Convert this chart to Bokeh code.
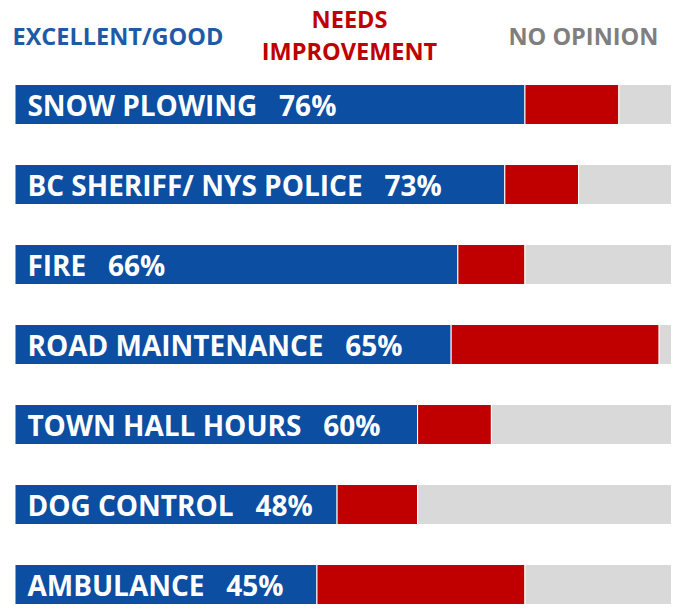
from bokeh.plotting import figure
from bokeh.models import Range1d, ColumnDataSource, Label
from bokeh.embed import file_html
from bokeh.resources import INLINE
from bokeh.core.properties import value

services = ["SNOW PLOWING", "BC SHERIFF/ NYS POLICE", "FIRE", "ROAD MAINTENANCE",
            "TOWN HALL HOURS", "DOG CONTROL", "AMBULANCE"]
excellent_good = [76, 73, 66, 65, 60, 48, 45]
needs_improvement = [14, 11, 10, 31, 11, 12, 31]
no_opinion = [100 - a - b for a, b in zip(excellent_good, needs_improvement)]
header_labels = ["EXCELLENT/GOOD", "NEEDS", "IMPROVEMENT", "NO OPINION"]

BLUE = "#0B4EA2"
RED = "#C00000"
GRAY = "#D9D9D9"

W, H = 671, 605

idx = list(range(len(services)))
left1 = [0] * len(services)
right1 = excellent_good
right2 = [a + b for a, b in zip(excellent_good, needs_improvement)]
right3 = [a + b + c for a, b, c in zip(excellent_good, needs_improvement, no_opinion)]
NB = "\u00a0"
labels = [f"{s}{NB*3}{v}%" for s, v in zip(services, excellent_good)]

src = ColumnDataSource(dict(y=idx, l1=left1, r1=right1, r2=right2, r3=right3, lab=labels,
                            lx=[1.85] * len(services)))

p = figure(width=W, height=H, output_backend="svg", toolbar_location=None,
           x_range=Range1d(-2.16, 97.84), y_range=Range1d(6.2625, -1.3),
           min_border=0, outline_line_color=None)
p.axis.visible = False
p.grid.visible = False
p.background_fill_color = "white"

h = 0.5
p.hbar(y="y", left="l1", right="r1", height=h, source=src, fill_color=BLUE,
       line_color="white", line_width=1)
p.hbar(y="y", left="r1", right="r2", height=h, source=src, fill_color=RED,
       line_color="white", line_width=1)
p.hbar(y="y", left="r2", right="r3", height=h, source=src, fill_color=GRAY,
       line_color="white", line_width=1)

p.text(x="lx", y="y", text="lab", source=src, text_color="white",
       text_font=value("Open Sans"), text_font_style="bold", text_font_size="28px",
       text_align="left", text_baseline="middle")

def header(text, x, y, color, align):
    p.add_layout(Label(x=x, y=H - y, x_units="screen", y_units="screen", text=text,
                       text_color=color, text_font="Open Sans", text_font_style="bold",
                       text_font_size="23.5px", text_baseline="middle", text_align=align))

header(header_labels[0], 12, 35, "#1F5AA6", "left")
header(header_labels[1], 349, 18, RED, "center")
header(header_labels[2], 349, 50, RED, "center")
header(header_labels[3], 508, 35, "#7F7F7F", "left")

open("out.html", "w").write(file_html(p, INLINE))
